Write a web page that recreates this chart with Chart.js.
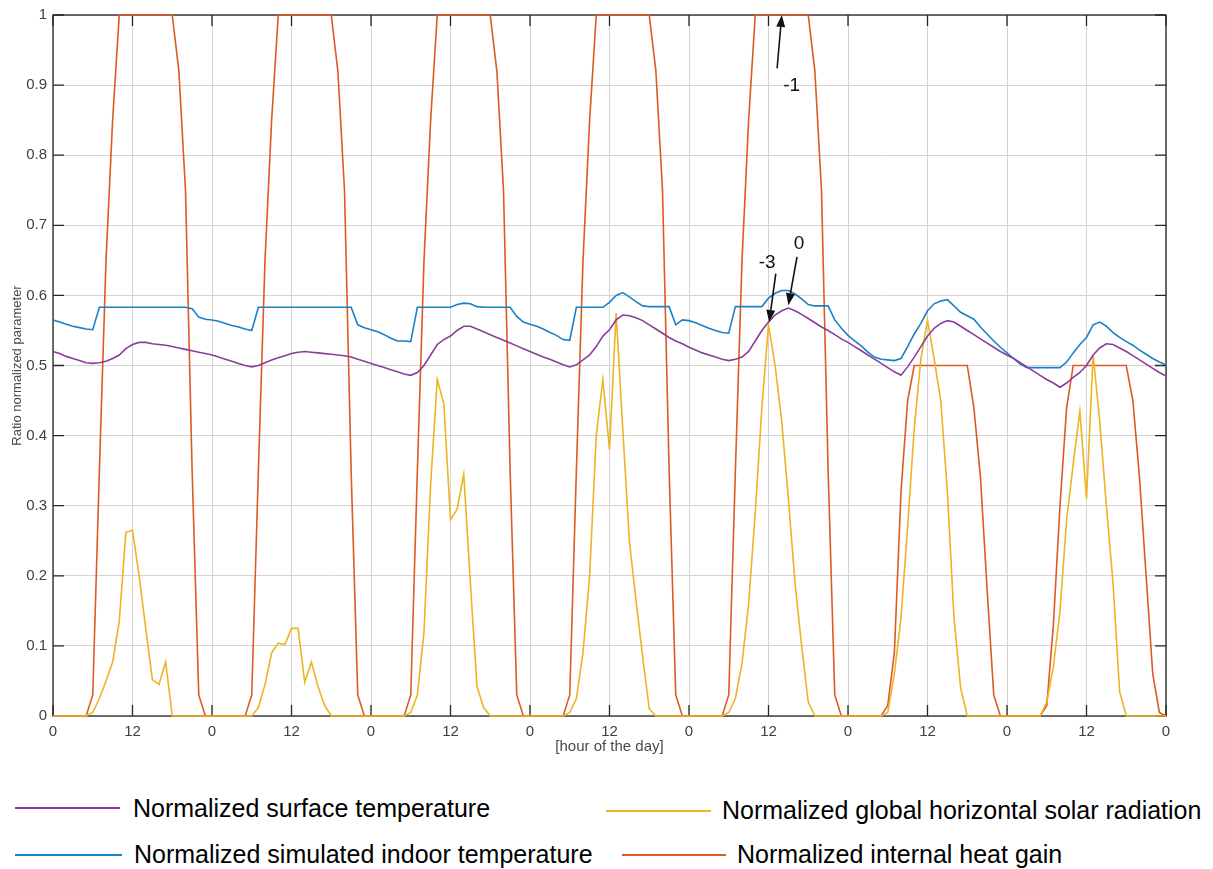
<!DOCTYPE html>
<html>
<head>
<meta charset="utf-8">
<title>Normalized parameters over one week</title>
<script src="https://cdn.jsdelivr.net/npm/chart.js@4.4.1/dist/chart.umd.min.js"></script>
<style>
  body { margin: 0; background: #fff; width: 1213px; height: 869px; position: relative; overflow: hidden; font-family: 'Liberation Sans', Arial, sans-serif; }
  #wrap { position: absolute; left: 0; top: 0; width: 1213px; height: 760px; }
  .legLine { position: absolute; height: 2px; }
  .legText { position: absolute; font-size: 25px; line-height: 25px; color: #000; white-space: nowrap; }
</style>
</head>
<body>
<div id="wrap"><canvas id="chart" width="1213" height="760"></canvas></div>
<div id="legend"></div>
<script>
// --- data (hourly, 7 days) ---
const hours = Array.from({ length: 169 }, (_, i) => i);
const xTickLabels = ['0', '12', '0', '12', '0', '12', '0', '12', '0', '12', '0', '12', '0', '12', '0'];
const yTickLabels = ['0', '0.1', '0.2', '0.3', '0.4', '0.5', '0.6', '0.7', '0.8', '0.9', '1'];

const seriesNames = [
    'Normalized surface temperature',
    'Normalized global horizontal solar radiation',
    'Normalized simulated indoor temperature',
    'Normalized internal heat gain'
];
const seriesColors = ['#8a3d9c', '#efb324', '#1a80c8', '#de5a24'];

const surfaceTemp = [
    0.52, 0.517, 0.513, 0.51, 0.507, 0.504, 0.503, 0.504, 0.506, 0.51, 0.515, 0.524, 0.53, 0.533, 0.533, 0.531, 0.53, 0.529, 0.527, 0.525, 0.523, 0.521, 0.519, 0.517,
    0.515, 0.512, 0.509, 0.506, 0.503, 0.5, 0.498, 0.5, 0.504, 0.508, 0.511, 0.514, 0.517, 0.519, 0.52, 0.519, 0.518, 0.517, 0.516, 0.515, 0.514, 0.512, 0.509, 0.506,
    0.503, 0.5, 0.497, 0.494, 0.491, 0.488, 0.486, 0.49, 0.5, 0.515, 0.53, 0.537, 0.542, 0.55, 0.556, 0.556, 0.552, 0.548, 0.544, 0.54, 0.536, 0.532, 0.528, 0.524,
    0.52, 0.516, 0.512, 0.509, 0.505, 0.501, 0.498, 0.501, 0.508, 0.515, 0.527, 0.542, 0.551, 0.565, 0.572, 0.571, 0.568, 0.564, 0.558, 0.552, 0.546, 0.54, 0.535, 0.531,
    0.526, 0.522, 0.518, 0.515, 0.512, 0.509, 0.507, 0.509, 0.512, 0.52, 0.535, 0.55, 0.562, 0.572, 0.578, 0.582, 0.578, 0.573, 0.567, 0.561, 0.555, 0.55, 0.544, 0.538,
    0.533, 0.527, 0.521, 0.515, 0.509, 0.503, 0.497, 0.491, 0.486, 0.498, 0.512, 0.527, 0.542, 0.553, 0.56, 0.564, 0.562, 0.556, 0.55, 0.544, 0.538, 0.532, 0.526, 0.52,
    0.515, 0.51, 0.504, 0.498, 0.492, 0.486, 0.48, 0.475, 0.469, 0.475, 0.483, 0.49, 0.5, 0.515, 0.525, 0.531, 0.53, 0.525, 0.52, 0.514, 0.508, 0.502, 0.496, 0.49, 0.485
];

const solarRadiation = [
    0, 0, 0, 0, 0, 0, 0.005, 0.025, 0.05, 0.077, 0.135, 0.262, 0.265, 0.2, 0.125, 0.052, 0.045, 0.077, 0, 0, 0, 0, 0, 0,
    0, 0, 0, 0, 0, 0, 0, 0.012, 0.045, 0.09, 0.104, 0.102, 0.125, 0.125, 0.048, 0.077, 0.042, 0.015, 0, 0, 0, 0, 0, 0,
    0, 0, 0, 0, 0, 0, 0.005, 0.03, 0.12, 0.33, 0.48, 0.445, 0.28, 0.295, 0.345, 0.19, 0.042, 0.012, 0, 0, 0, 0, 0, 0,
    0, 0, 0, 0, 0, 0, 0.005, 0.025, 0.09, 0.2, 0.4, 0.48, 0.38, 0.575, 0.41, 0.25, 0.165, 0.085, 0.01, 0, 0, 0, 0, 0,
    0, 0, 0, 0, 0, 0, 0.005, 0.025, 0.075, 0.16, 0.29, 0.44, 0.558, 0.5, 0.42, 0.31, 0.19, 0.1, 0.02, 0, 0, 0, 0, 0,
    0, 0, 0, 0, 0, 0, 0.005, 0.06, 0.14, 0.27, 0.41, 0.51, 0.565, 0.51, 0.45, 0.32, 0.14, 0.04, 0, 0, 0, 0, 0, 0,
    0, 0, 0, 0, 0, 0, 0.02, 0.07, 0.15, 0.28, 0.36, 0.435, 0.31, 0.515, 0.42, 0.3, 0.19, 0.035, 0, 0, 0, 0, 0, 0, 0
];

const indoorTemp = [
    0.565, 0.562, 0.559, 0.556, 0.554, 0.552, 0.551, 0.583, 0.583, 0.583, 0.583, 0.583, 0.583, 0.583, 0.583, 0.583, 0.583, 0.583, 0.583, 0.583, 0.583, 0.581, 0.569, 0.566,
    0.565, 0.563, 0.56, 0.557, 0.555, 0.552, 0.55, 0.583, 0.583, 0.583, 0.583, 0.583, 0.583, 0.583, 0.583, 0.583, 0.583, 0.583, 0.583, 0.583, 0.583, 0.583, 0.558, 0.554,
    0.551, 0.548, 0.544, 0.539, 0.535, 0.535, 0.534, 0.583, 0.583, 0.583, 0.583, 0.583, 0.583, 0.587, 0.589, 0.588, 0.584, 0.583, 0.583, 0.583, 0.583, 0.583, 0.57, 0.562,
    0.559, 0.556, 0.552, 0.547, 0.543, 0.537, 0.536, 0.583, 0.583, 0.583, 0.583, 0.583, 0.59, 0.6, 0.604, 0.598, 0.591, 0.585, 0.584, 0.584, 0.584, 0.584, 0.558, 0.565,
    0.564, 0.561, 0.557, 0.553, 0.55, 0.547, 0.546, 0.584, 0.584, 0.584, 0.584, 0.584, 0.596, 0.603, 0.607, 0.607, 0.602, 0.595, 0.587, 0.585, 0.585, 0.585, 0.565, 0.553,
    0.543, 0.535, 0.528, 0.519, 0.512, 0.509, 0.508, 0.507, 0.51, 0.527, 0.545, 0.56, 0.578, 0.588, 0.592, 0.594, 0.585, 0.576, 0.571, 0.566, 0.555, 0.545, 0.535, 0.526,
    0.518, 0.51, 0.502, 0.497, 0.497, 0.497, 0.497, 0.497, 0.497, 0.505, 0.518, 0.53, 0.54, 0.558, 0.562, 0.556, 0.547, 0.54, 0.534, 0.529, 0.522, 0.516, 0.51, 0.505, 0.501
];

const heatGain = [
    0, 0, 0, 0, 0, 0, 0.03, 0.35, 0.65, 0.85, 1, 1, 1, 1, 1, 1, 1, 1, 1, 0.92, 0.75, 0.35, 0.03, 0,
    0, 0, 0, 0, 0, 0, 0.03, 0.35, 0.65, 0.85, 1, 1, 1, 1, 1, 1, 1, 1, 1, 0.92, 0.75, 0.35, 0.03, 0,
    0, 0, 0, 0, 0, 0, 0.03, 0.35, 0.65, 0.85, 1, 1, 1, 1, 1, 1, 1, 1, 1, 0.92, 0.75, 0.35, 0.03, 0,
    0, 0, 0, 0, 0, 0, 0.03, 0.35, 0.65, 0.85, 1, 1, 1, 1, 1, 1, 1, 1, 1, 0.92, 0.75, 0.35, 0.03, 0,
    0, 0, 0, 0, 0, 0, 0.03, 0.35, 0.65, 0.85, 1, 1, 1, 1, 1, 1, 1, 1, 1, 0.92, 0.75, 0.35, 0.03, 0,
    0, 0, 0, 0, 0, 0, 0.015, 0.09, 0.32, 0.45, 0.5, 0.5, 0.5, 0.5, 0.5, 0.5, 0.5, 0.5, 0.5, 0.44, 0.34, 0.18, 0.03, 0,
    0, 0, 0, 0, 0, 0, 0.015, 0.13, 0.3, 0.44, 0.5, 0.5, 0.5, 0.5, 0.5, 0.5, 0.5, 0.5, 0.5, 0.45, 0.34, 0.2, 0.06, 0.005, 0
];

const seriesData = [surfaceTemp, solarRadiation, indoorTemp, heatGain];

// arrows with lag labels, in data units [hour, value]
const noteLabels = ['-1', '-3', '0'];
const noteTextAt = [[111.5, 0.899], [107.8, 0.646], [112.6, 0.674]];
const noteFrom = [[109.3, 0.924], [109.1, 0.631], [112.3, 0.655]];
const noteTo = [[110.0, 1.0], [108.1, 0.562], [111.0, 0.586]];

// frame + inward ticks like the original plot
const boxPlugin = {
    id: 'box',
    beforeDatasetsDraw(chart) {
        const { ctx, chartArea: a, scales: { x, y } } = chart;
        const len = 11;
        ctx.save();
        ctx.strokeStyle = '#262626';
        ctx.lineWidth = 1.3;
        ctx.strokeRect(a.left, a.top, a.right - a.left, a.bottom - a.top);
        ctx.beginPath();
        x.ticks.forEach(t => {
            const px = x.getPixelForValue(t.value);
            ctx.moveTo(px, a.bottom); ctx.lineTo(px, a.bottom - len);
            ctx.moveTo(px, a.top); ctx.lineTo(px, a.top + len);
        });
        y.ticks.forEach(t => {
            const py = y.getPixelForValue(t.value);
            ctx.moveTo(a.left, py); ctx.lineTo(a.left + len, py);
            ctx.moveTo(a.right, py); ctx.lineTo(a.right - len, py);
        });
        ctx.stroke();
        ctx.restore();
    }
};

const notePlugin = {
    id: 'notes',
    afterDatasetsDraw(chart) {
        const { ctx, scales: { x, y } } = chart;
        const head = 12, half = 4.5;
        ctx.save();
        ctx.strokeStyle = '#111';
        ctx.fillStyle = '#111';
        ctx.lineWidth = 1.6;
        noteLabels.forEach((txt, i) => {
            const x0 = x.getPixelForValue(noteFrom[i][0]), y0 = y.getPixelForValue(noteFrom[i][1]);
            const x1 = x.getPixelForValue(noteTo[i][0]), y1 = y.getPixelForValue(noteTo[i][1]);
            const ang = Math.atan2(y1 - y0, x1 - x0);
            const bx = x1 - head * Math.cos(ang), by = y1 - head * Math.sin(ang);
            ctx.beginPath();
            ctx.moveTo(x0, y0);
            ctx.lineTo(bx, by);
            ctx.stroke();
            ctx.beginPath();
            ctx.moveTo(x1, y1);
            ctx.lineTo(bx + half * Math.sin(ang), by - half * Math.cos(ang));
            ctx.lineTo(bx - half * Math.sin(ang), by + half * Math.cos(ang));
            ctx.closePath();
            ctx.fill();
            ctx.font = '19px "Liberation Sans", Arial, sans-serif';
            ctx.textAlign = 'center';
            ctx.textBaseline = 'middle';
            ctx.fillText(txt, x.getPixelForValue(noteTextAt[i][0]), y.getPixelForValue(noteTextAt[i][1]));
        });
        ctx.restore();
    }
};

const tickFont = { family: "'Liberation Sans Narrow', 'Liberation Sans', Arial, sans-serif", size: 15 };

const chart = new Chart(document.getElementById('chart'), {
    type: 'line',
    data: {
        labels: hours,
        datasets: seriesNames.map((name, i) => ({
            label: name,
            data: seriesData[i],
            borderColor: seriesColors[i],
            backgroundColor: seriesColors[i],
            borderWidth: 1.6,
            pointRadius: 0,
            tension: 0,
            fill: false,
            clip: 4
        }))
    },
    options: {
        responsive: false,
        animation: false,
        layout: { padding: { left: 0, top: 15, right: 47, bottom: 0 } },
        plugins: {
            legend: { display: false },
            tooltip: { enabled: false }
        },
        scales: {
            x: {
                type: 'linear',
                min: 0,
                max: 168,
                grid: { color: '#d4d4d4', drawTicks: false },
                border: { display: false },
                ticks: {
                    stepSize: 12,
                    autoSkip: false,
                    maxRotation: 0,
                    padding: 7,
                    color: '#404040',
                    font: tickFont,
                    callback: (v) => xTickLabels[Math.round(v / 12)]
                },
                title: {
                    display: true,
                    text: '[hour of the day]',
                    color: '#4a4a4a',
                    font: { family: "'Liberation Sans', Arial, sans-serif", size: 15 },
                    padding: { top: 0, bottom: 4 }
                },
                afterFit: (s) => { s.height = 44; }
            },
            y: {
                min: 0,
                max: 1,
                grid: { color: '#d4d4d4', drawTicks: false },
                border: { display: false },
                ticks: {
                    stepSize: 0.1,
                    padding: 6,
                    color: '#404040',
                    font: tickFont,
                    callback: (v) => yTickLabels[Math.round(v * 10)]
                },
                title: {
                    display: true,
                    text: 'Ratio normalized parameter',
                    color: '#4a4a4a',
                    font: { family: "'Liberation Sans', Arial, sans-serif", size: 13 },
                    padding: { top: 10, bottom: 0 }
                },
                afterFit: (s) => { s.width = 53; }
            }
        }
    },
    plugins: [boxPlugin, notePlugin]
});

// legend below the plot (two rows, as in the figure)
const legendSlots = [
    { x1: 15, x2: 120, ly: 808, tx: 133, ty: 796 },
    { x1: 606, x2: 711, ly: 811, tx: 722, ty: 798 },
    { x1: 15, x2: 122, ly: 855, tx: 134, ty: 842 },
    { x1: 622, x2: 726, ly: 855, tx: 737, ty: 842 }
];
const legendEl = document.getElementById('legend');
seriesNames.forEach((name, i) => {
    const s = legendSlots[i];
    const line = document.createElement('div');
    line.className = 'legLine';
    line.style.left = s.x1 + 'px';
    line.style.width = (s.x2 - s.x1) + 'px';
    line.style.top = (s.ly - 1) + 'px';
    line.style.background = seriesColors[i];
    legendEl.appendChild(line);
    const txt = document.createElement('div');
    txt.className = 'legText';
    txt.style.left = s.tx + 'px';
    txt.style.top = s.ty + 'px';
    txt.textContent = name;
    legendEl.appendChild(txt);
});
</script>
</body>
</html>
